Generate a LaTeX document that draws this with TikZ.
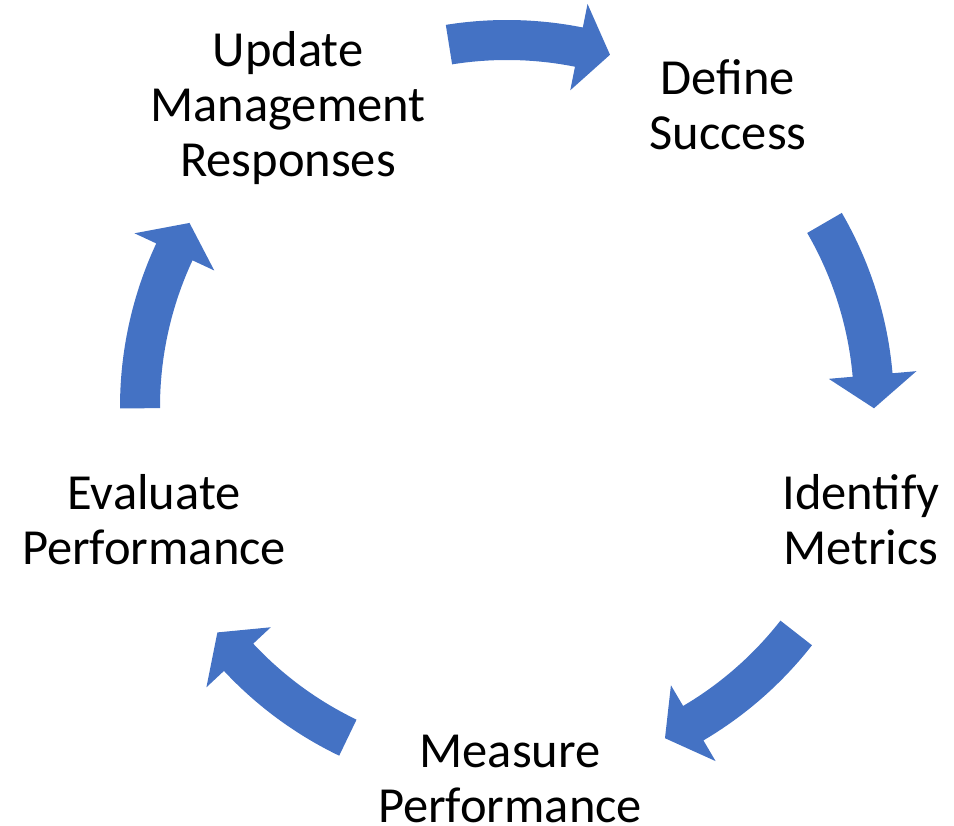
\documentclass[tikz,border=0pt]{standalone}
\usepackage{fontspec}
\setmainfont{Carlito}
\definecolor{arrowblue}{HTML}{4472C4}
\tikzset{
  lbl/.style={font=\fontsize{50.5pt}{55pt}\selectfont, align=center, anchor=base, inner sep=0pt},
  cyclearrow/.style={fill=arrowblue, draw=none}
}
% #1 tail angle, #2 head base angle, #3 tip angle
\newcommand{\cycarrow}[3]{%
  \fill[cyclearrow] (#1:387pt) arc[start angle=#1, end angle=#2, radius=387pt]
    -- (#2:411pt) -- (#3:367pt) -- (#2:323pt) -- (#2:347pt)
    arc[start angle=#2, end angle=#1, radius=347pt] -- cycle;}
\begin{document}
\begin{tikzpicture}[x=1pt,y=1pt]
\useasboundingbox (0,0) rectangle (954,826);
\coordinate (C) at (507,419);
% anchor=base is the baseline of the last line
\node[lbl] (update) at (288,649) {Update\\Management\\Responses};
\node[lbl] (define) at (728,676) {Define\\Success};
\node[lbl] (identify) at (861,261) {Identify\\Metrics};
\node[lbl] (measure) at (510,3) {Measure\\Performance};
\node[lbl] (evaluate) at (154,261) {Evaluate\\Performance};
\begin{scope}[shift={(C)}]
\cycarrow{99.1}{78.7}{73.7}
\cycarrow{30.1}{5.0}{-0.2}
\cycarrow{-38.0}{-59.5}{-64.5}
\cycarrow{-115.7}{-137.0}{-142.1}
\cycarrow{180.2}{155.0}{149.9}
\end{scope}
\end{tikzpicture}
\end{document}
